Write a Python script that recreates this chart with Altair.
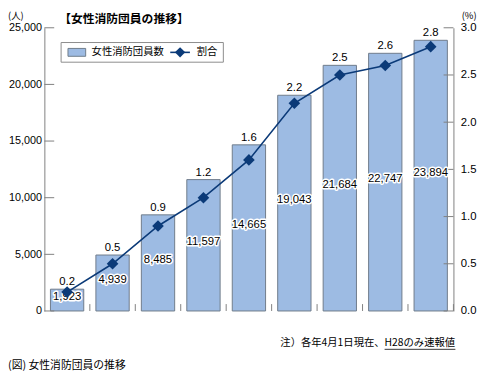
import altair as alt
import pandas as pd

# ---- data ----
categories = ["平成2", "6", "10", "14", "18", "22", "26", "27", "28"]
members = [1923, 4939, 8485, 11597, 14665, 19043, 21684, 22747, 23894]
ratio = [0.2, 0.5, 0.9, 1.2, 1.6, 2.2, 2.5, 2.6, 2.8]
left_ticks = [0, 5000, 10000, 15000, 20000, 25000]
right_ticks = [0.0, 0.5, 1.0, 1.5, 2.0, 2.5, 3.0]

df = pd.DataFrame({"year": categories, "members": members, "ratio": ratio})
df["members_label"] = [f"{v:,}" for v in members]
df["ratio_label"] = [f"{v:.1f}" for v in ratio]
lt = pd.DataFrame({"v": left_ticks})
rt = pd.DataFrame({"v": right_ticks})
ann = pd.DataFrame({"k": [0]})

W, H = 416, 288
JP = "Noto Sans CJK JP"
NUM = "Liberation Sans"
BAR_FILL = "#9dbbe3"
BAR_STROKE = "#6f7b8a"
LINE = "#0b3a78"
AXIS = "#808080"
P_IN = 0.267

xscale = alt.Scale(domain=categories, paddingInner=P_IN, paddingOuter=P_IN / 2)
yL = alt.Scale(domain=[0, 25000], nice=False, zero=True)
yR = alt.Scale(domain=[0, 3], nice=False, zero=True)

xaxis = alt.Axis(title=None, labelAngle=0, ticks=False, domainColor=AXIS, labelPadding=8,
                 labelFont=JP, labelFontSize=11, labelColor="#000", grid=False)
X = alt.X("year:N", sort=categories, scale=xscale, axis=xaxis)

bars = alt.Chart(df).mark_bar(fill=BAR_FILL, stroke=BAR_STROKE, strokeWidth=1).encode(
    x=X,
    y=alt.Y("members:Q", scale=yL, axis=alt.Axis(title=None, values=left_ticks, format=",.0f", ticks=False,
            domainColor=AXIS, labelPadding=3, labelFont=NUM, labelFontSize=11, labelColor="#000", grid=False)),
)

left_tick_rules = alt.Chart(lt).mark_rule(color=AXIS, strokeWidth=1).encode(
    y=alt.Y("v:Q", scale=yL, axis=None), x=alt.value(0), x2=alt.value(10))

right_tick_rules = alt.Chart(rt).mark_rule(color=AXIS, strokeWidth=1).encode(
    y=alt.Y("v:Q", scale=yR, axis=None), x=alt.value(W - 10), x2=alt.value(W))

half_gap = W / len(categories) * P_IN / 2
bottom_ticks = alt.Chart(df).mark_rule(color=AXIS, strokeWidth=1, xOffset=half_gap).encode(
    x=alt.X("year:N", sort=categories, scale=xscale, bandPosition=1, axis=None),
    y=alt.value(H), y2=alt.value(H - 7))

halo = alt.Chart(df).transform_calculate(half="datum.members / 2").mark_text(
    font=NUM, fontSize=11.5, stroke="white", strokeWidth=3, strokeJoin="round", fill="white",
    baseline="middle", dy=-3).encode(
    x=X, y=alt.Y("half:Q", scale=yL, axis=None), text="members_label:N")
vals = alt.Chart(df).transform_calculate(half="datum.members / 2").mark_text(
    font=NUM, fontSize=11.5, fill="#000", baseline="middle", dy=-3).encode(
    x=X, y=alt.Y("half:Q", scale=yL, axis=None), text="members_label:N")

ratio_text = alt.Chart(df).mark_text(font=NUM, fontSize=11.5, fill="#000", baseline="bottom", dy=-2).encode(
    x=X, y=alt.Y("members:Q", scale=yL, axis=None), text="ratio_label:N")

line = alt.Chart(df).mark_line(color=LINE, strokeWidth=1.6).encode(
    x=X,
    y=alt.Y("ratio:Q", scale=yR, axis=alt.Axis(orient="right", title=None, values=right_ticks, format=".1f",
            ticks=False, domainColor=AXIS, labelPadding=7, labelFont=NUM, labelFontSize=11.5,
            labelColor="#000", grid=False)))
pts = alt.Chart(df).mark_point(shape="diamond", filled=True, color=LINE, size=140, opacity=1).encode(
    x=X, y=alt.Y("ratio:Q", scale=yR, axis=None))

def txt(s, x, y, size=11, align="left", weight="normal", font=JP):
    return alt.Chart(ann).mark_text(text=s, font=font, fontSize=size, align=align, baseline="middle",
                                    fontWeight=weight, fill="#000").encode(x=alt.value(x), y=alt.value(y))

unit_l = txt("(人)", -29, -11.5, size=9.5, align="center")
unit_r = txt("(%)", 432, -11.5, size=9.5, align="center")
title = txt("【女性消防団員の推移】", 15, -9, size=12, weight="bold")
note1 = txt("注）各年4月1日現在、", 346, 321, size=10.5, align="right")
note2 = txt("H28のみ速報値", 346, 321, size=10.5, align="left")
underline = alt.Chart(ann).mark_rule(color="#000", strokeWidth=0.8).encode(
    x=alt.value(346), x2=alt.value(418), y=alt.value(327))
caption = txt("(図)  女性消防団員の推移", -37, 344, size=11)

leg_box = alt.Chart(ann).mark_rect(fill="white", stroke="#8c8c8c", strokeWidth=1).encode(
    x=alt.value(17), x2=alt.value(182), y=alt.value(15), y2=alt.value(35))
leg_sw = alt.Chart(ann).mark_rect(fill=BAR_FILL, stroke=BAR_STROKE, strokeWidth=1).encode(
    x=alt.value(24), x2=alt.value(42), y=alt.value(21), y2=alt.value(29))
leg_t1 = txt("女性消防団員数", 48, 25, size=10.5)
leg_line = alt.Chart(ann).mark_rule(color=LINE, strokeWidth=1.6).encode(
    x=alt.value(128), x2=alt.value(148), y=alt.value(25))
leg_pt = alt.Chart(ann).mark_point(shape="diamond", filled=True, color=LINE, size=110, opacity=1).encode(
    x=alt.value(138), y=alt.value(25))
leg_t2 = txt("割合", 155, 25, size=10.5)

chart = alt.layer(
    bars, left_tick_rules, right_tick_rules, bottom_ticks, halo, vals, ratio_text, line, pts,
    unit_l, unit_r, title, note1, note2, underline, caption,
    leg_box, leg_sw, leg_t1, leg_line, leg_pt, leg_t2,
).resolve_scale(y="independent").properties(
    width=W, height=H,
    padding={"left": 37, "top": 17, "right": 26, "bottom": 62},
    autosize=alt.AutoSizeParams(type="none"),
).configure_view(stroke=None)

chart.save("out.html", embed_options={"renderer": "svg", "actions": False})
